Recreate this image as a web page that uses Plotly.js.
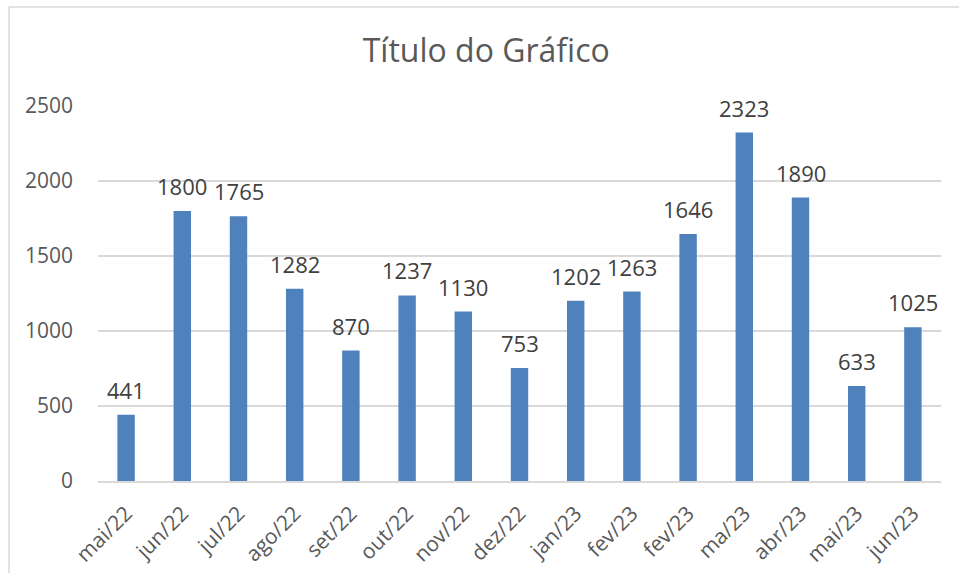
<!DOCTYPE html>
<html>
<head>
<meta charset="utf-8">
<script src="https://cdn.plot.ly/plotly-3.0.1.min.js"></script>
<style>
  html, body { margin: 0; padding: 0; background: #ffffff; }
  #chart { width: 959px; height: 573px; }
</style>
</head>
<body>
<div id="chart"></div>
<script>
const months = ["mai/22","jun/22","jul/22","ago/22","set/22","out/22","nov/22","dez/22","jan/23","fev/23","fev/23","ma/23","abr/23","mai/23","jun/23"];
const values = [441, 1800, 1765, 1282, 870, 1237, 1130, 753, 1202, 1263, 1646, 2323, 1890, 633, 1025];
const yTicks = [0, 500, 1000, 1500, 2000, 2500];
const chartTitle = "Título do Gráfico";

const positions = months.map((m, i) => i);

const W = 959, H = 573;
const M = {l: 98, r: 18, t: 106, b: 92};
const pw = W - M.l - M.r, ph = H - M.t - M.b;
const px = v => (v - M.l) / pw;
const py = v => (H - M.b - v) / ph;

const trace = {
  type: 'bar',
  x: positions,
  y: values,
  marker: {color: '#4f81bd', line: {width: 0}},
  width: 0.31,
  hoverinfo: 'skip'
};

const annotations = positions.map((p, i) => ({
  x: p, y: values[i], xref: 'x', yref: 'y',
  text: String(values[i]), showarrow: false,
  yanchor: 'bottom', yshift: 8,
  font: {family: 'Open Sans, sans-serif', size: 22, color: '#404040'}
}));

const layout = {
  width: W, height: H,
  margin: M,
  paper_bgcolor: '#ffffff',
  plot_bgcolor: '#ffffff',
  showlegend: false,
  title: {
    text: chartTitle,
    xref: 'container', yref: 'container',
    x: 0.507, y: 1 - 51 / H, xanchor: 'center', yanchor: 'middle',
    font: {family: 'Open Sans, sans-serif', size: 32, color: '#595959'}
  },
  xaxis: {
    range: [-0.5, months.length - 0.5],
    tickmode: 'array', tickvals: positions, ticktext: months,
    tickangle: -45,
    showgrid: false, zeroline: false,
    showline: true, linecolor: '#d9d9d9', linewidth: 2,
    ticks: '',
    ticklabelstandoff: 10,
    tickfont: {family: 'Open Sans, sans-serif', size: 21, color: '#595959'},
    fixedrange: true
  },
  yaxis: {
    range: [0, 2500],
    tickmode: 'array', tickvals: yTicks,
    showgrid: true, gridcolor: '#d9d9d9', gridwidth: 1.5,
    zeroline: false, showline: false, ticks: '',
    ticklabelstandoff: 24,
    tickfont: {family: 'Open Sans, sans-serif', size: 21, color: '#595959'},
    fixedrange: true
  },
  annotations: annotations,
  shapes: [
    {type: 'line', xref: 'paper', yref: 'paper', x0: px(9), x1: px(959), y0: py(7), y1: py(7), line: {color: '#d9d9d9', width: 1.5}},
    {type: 'line', xref: 'paper', yref: 'paper', x0: px(9), x1: px(9), y0: py(7), y1: py(573), line: {color: '#d9d9d9', width: 1.5}}
  ]
};

Plotly.newPlot('chart', [trace], layout, {displayModeBar: false, staticPlot: true});
</script>
</body>
</html>
